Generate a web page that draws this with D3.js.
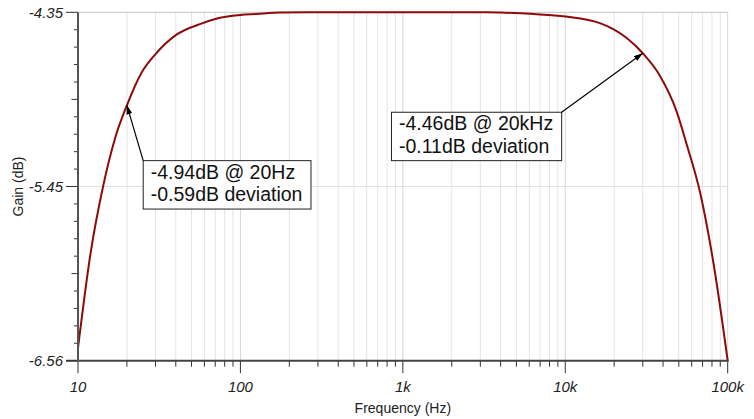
<!DOCTYPE html>
<html>
<head>
<meta charset="utf-8">
<script src="https://cdn.jsdelivr.net/npm/d3@7"></script>
<style>
  body { margin: 0; background: #fff; }
  svg { display: block; font-family: "Liberation Sans", Arial, sans-serif; }
</style>
</head>
<body>
<svg id="chart"></svg>
<script>
// frequency response
const freqHz = [10, 11.9, 14.3, 16.9, 20, 24.7, 30, 40, 58, 70, 100, 125, 175, 270, 1000, 3300,
  4000, 6400, 10000, 16500, 20000, 24000, 30000, 38000, 48500, 56000, 67500, 82000, 100000];
const gainDb = [-6.48, -5.89, -5.45, -5.15, -4.94, -4.73, -4.615, -4.495, -4.42, -4.392, -4.367, -4.361, -4.352, -4.35, -4.35, -4.35,
  -4.352, -4.361, -4.376, -4.42, -4.46, -4.515, -4.61, -4.748, -4.98, -5.19, -5.49, -5.95, -6.56];

const xTickValues = [10, 100, 1000, 10000, 100000];
const xTickLabels = ["10", "100", "1k", "10k", "100k"];
const yTickValues = [-4.35, -5.455, -6.56];
const yTickLabels = ["-4.35", "-5.45", "-6.56"];

// annotations: arrow tip and box corner in data units
const noteLeft = ["-4.94dB @ 20Hz", "-0.59dB deviation"];
const noteRight = ["-4.46dB @ 20kHz", "-0.11dB deviation"];
const notes = [
  { lines: noteLeft, tip: [20, -4.94], corner: [25.2, -5.291], side: "left" },
  { lines: noteRight, tip: [30000, -4.61], corner: [9500, -4.984], side: "right" }
];

const config = {
  containerWidth: 754,
  containerHeight: 419,
  margin: { top: 12.3, bottom: 58.3, right: 26.3, left: 78 }
};
const width = config.containerWidth - config.margin.left - config.margin.right;
const height = config.containerHeight - config.margin.top - config.margin.bottom;

const svg = d3.select("#chart")
  .attr("width", config.containerWidth)
  .attr("height", config.containerHeight);

svg.append("defs").append("marker")
  .attr("id", "arrow")
  .attr("viewBox", "0 0 9 6")
  .attr("refX", 9)
  .attr("refY", 3)
  .attr("markerWidth", 9)
  .attr("markerHeight", 6)
  .attr("markerUnits", "userSpaceOnUse")
  .attr("orient", "auto")
  .append("path")
    .attr("d", "M0,0L9,3L0,6Z")
    .attr("fill", "#000");

const chart = svg.append("g")
  .attr("transform", `translate(${config.margin.left},${config.margin.top})`);

const xScale = d3.scaleLog().domain([10, 100000]).range([0, width]);
const yScale = d3.scaleLinear().domain([-6.56, -4.35]).range([height, 0]);

// minor decade positions 20..90
const minorX = [];
xTickValues.slice(0, -1).forEach(d => {
  for (let k = 2; k <= 9; k++) minorX.push(d * k);
});

// vertical grid
chart.append("g").selectAll("line")
  .data(minorX.concat(xTickValues.slice(1)))
  .join("line")
    .attr("x1", d => xScale(d)).attr("x2", d => xScale(d))
    .attr("y1", 0).attr("y2", height)
    .attr("stroke", d => xTickValues.includes(d) ? "#d6d6d6" : "#e4e4e4")
    .attr("stroke-width", 1);

// horizontal grid
chart.append("g").selectAll("line")
  .data(yTickValues.slice(0, 2))
  .join("line")
    .attr("x1", 0).attr("x2", width)
    .attr("y1", d => yScale(d)).attr("y2", d => yScale(d))
    .attr("stroke", (d, i) => i == 0 ? "#c4c4c4" : "#e0e0e0")
    .attr("stroke-width", 1);

// curve
const line = d3.line()
  .x(d => xScale(d[0]))
  .y(d => yScale(d[1]))
  .curve(d3.curveMonotoneX);

chart.append("path")
  .datum(freqHz.map((f, i) => [f, gainDb[i]]))
  .attr("d", line)
  .attr("fill", "none")
  .attr("stroke", "#8e0a0a")
  .attr("stroke-width", 2);

// x axis
const xAxisG = chart.append("g").attr("transform", `translate(0,${height})`);
xAxisG.append("g").selectAll("line")
  .data(minorX)
  .join("line")
    .attr("x1", d => xScale(d)).attr("x2", d => xScale(d))
    .attr("y1", 0).attr("y2", 6)
    .attr("stroke", "#333");
xAxisG.append("g").selectAll("line")
  .data(xTickValues)
  .join("line")
    .attr("x1", d => xScale(d)).attr("x2", d => xScale(d))
    .attr("y1", 0).attr("y2", 12.5)
    .attr("stroke", "#333");
xAxisG.append("line")
  .attr("x1", -12).attr("x2", width + 1)
  .attr("stroke", "#444").attr("stroke-width", 2);
xAxisG.selectAll(".xlab")
  .data(xTickValues)
  .join("text")
    .attr("class", "xlab")
    .attr("x", d => xScale(d))
    .attr("y", 31)
    .attr("text-anchor", "middle")
    .attr("font-style", "italic")
    .attr("font-size", "15px")
    .attr("fill", "#222")
    .text((d, i) => xTickLabels[i]);

// y axis
const yMinor = d3.range(21).map(i => -4.35 - i * 2.21 / 20);
const yAxisG = chart.append("g");
yAxisG.selectAll("line.minor")
  .data(yMinor)
  .join("line")
    .attr("class", "minor")
    .attr("x1", (d, i) => i % 10 == 0 ? -12 : (i % 5 == 0 ? -6.5 : -4))
    .attr("x2", 0)
    .attr("y1", d => yScale(d)).attr("y2", d => yScale(d))
    .attr("stroke", "#333");
yAxisG.append("line")
  .attr("y1", 0).attr("y2", height + 1)
  .attr("stroke", "#555").attr("stroke-width", 2);
yAxisG.selectAll(".ylab")
  .data(yTickValues)
  .join("text")
    .attr("class", "ylab")
    .attr("x", -15)
    .attr("y", d => yScale(d))
    .attr("dy", "0.35em")
    .attr("text-anchor", "end")
    .attr("font-style", "italic")
    .attr("font-size", "15px")
    .attr("fill", "#222")
    .text((d, i) => yTickLabels[i]);

// axis titles
svg.append("text")
  .attr("x", config.margin.left + width / 2)
  .attr("y", 413)
  .attr("text-anchor", "middle")
  .attr("font-size", "14px")
  .attr("fill", "#222")
  .text("Frequency (Hz)");

svg.append("text")
  .attr("transform", `translate(23,${config.margin.top + height / 2}) rotate(-90)`)
  .attr("text-anchor", "middle")
  .attr("font-size", "14px")
  .attr("fill", "#222")
  .text("Gain (dB)");

// annotation boxes
notes.forEach(n => {
  const g = chart.append("g");
  const cx = xScale(n.corner[0]), cy = yScale(n.corner[1]);
  const rect = g.append("rect");
  const txt = g.selectAll("text")
    .data(n.lines)
    .join("text")
      .attr("y", (d, i) => cy + 18 + i * 22.7)
      .attr("font-size", "19.5px")
      .attr("fill", "#111")
      .text(d => d);
  const w = d3.max(txt.nodes(), t => t.getComputedTextLength()) + 16;
  const x0 = n.side == "left" ? cx : cx - w;
  txt.attr("x", x0 + 7.5);
  rect.attr("x", x0).attr("y", cy)
    .attr("width", w).attr("height", 48.4)
    .attr("fill", "#fff").attr("stroke", "#222").attr("stroke-width", 1);
  g.append("line")
    .attr("x1", cx).attr("y1", cy)
    .attr("x2", xScale(n.tip[0])).attr("y2", yScale(n.tip[1]))
    .attr("stroke", "#000").attr("stroke-width", 1.2)
    .attr("marker-end", "url(#arrow)");
});
</script>
</body>
</html>
